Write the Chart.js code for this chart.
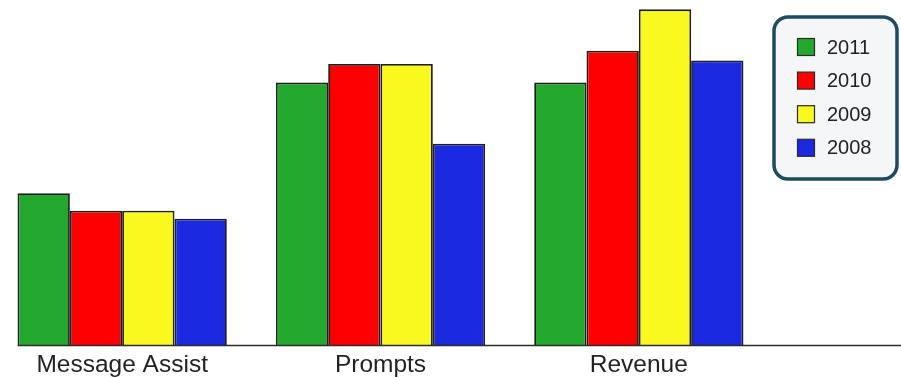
<!DOCTYPE html>
<html>
<head>
<meta charset="utf-8">
<title>Yearly comparison</title>
<script src="https://cdn.jsdelivr.net/npm/chart.js@4/dist/chart.umd.min.js"></script>
<style>
  html, body { margin: 0; padding: 0; background: #ffffff; overflow: hidden; }
  #wrap { position: absolute; left: -7px; top: 0; width: 908px; height: 385px; }
</style>
</head>
<body>
<div id="wrap"><canvas id="chart" width="908" height="385"></canvas></div>
<script>
// Categories along the x axis
const categories = ['Message Assist', 'Prompts', 'Revenue'];

// One series per year
const years = ['2011', '2010', '2009', '2008'];
const values2011 = [44.1, 76.1, 76.1];
const values2010 = [39.0, 81.5, 85.3];
const values2009 = [39.0, 81.5, 97.3];
const values2008 = [36.7, 58.4, 82.5];

const seriesValues = [values2011, values2010, values2009, values2008];
const seriesColors = ['#22a82d', '#fe0000', '#f9f91f', '#1b2ae0'];

const datasets = years.map((year, i) => ({
  label: year,
  data: seriesValues[i],
  backgroundColor: seriesColors[i],
  borderColor: '#1e1e1e',
  borderWidth: 1.8,
  borderSkipped: 'bottom',
  categoryPercentage: 0.81,
  barPercentage: 1.0
}));

// Baseline running from the first bar to the right edge
const baselinePlugin = {
  id: 'baseline',
  afterDatasetsDraw(chart) {
    const ctx = chart.ctx;
    const first = chart.getDatasetMeta(0).data[0];
    const left = first.x - first.width / 2;
    const y = chart.chartArea.bottom;
    ctx.save();
    ctx.strokeStyle = '#2b2b2b';
    ctx.lineWidth = 1.5;
    ctx.beginPath();
    ctx.moveTo(left, y);
    ctx.lineTo(chart.width, y);
    ctx.stroke();
    ctx.restore();
  }
};

// Boxed legend in the upper right corner
const boxLegendPlugin = {
  id: 'boxLegend',
  afterDraw(chart) {
    const ctx = chart.ctx;
    const ox = 7; // canvas offset relative to the page
    const bx = 774 + ox, by = 17, bw = 123, bh = 162, r = 14;
    ctx.save();
    ctx.beginPath();
    ctx.roundRect(bx, by, bw, bh, r);
    ctx.fillStyle = '#f4f6f8';
    ctx.fill();
    ctx.lineWidth = 3.5;
    ctx.strokeStyle = '#1d4b61';
    ctx.stroke();

    const rowStart = 47, rowStep = 33.6, sw = 17;
    chart.data.datasets.forEach((ds, i) => {
      const cy = rowStart + i * rowStep;
      ctx.fillStyle = ds.backgroundColor;
      ctx.fillRect(797.5 + ox, cy - sw / 2, sw, sw);
      ctx.lineWidth = 1.2;
      ctx.strokeStyle = '#2a2a2a';
      ctx.strokeRect(797.5 + ox, cy - sw / 2, sw, sw);
      ctx.fillStyle = '#222222';
      ctx.font = '20px "Liberation Sans", Arial, sans-serif';
      ctx.textBaseline = 'middle';
      ctx.textAlign = 'left';
      ctx.fillText(ds.label, 827 + ox, cy + 1);
    });
    ctx.restore();
  }
};

new Chart(document.getElementById('chart'), {
  type: 'bar',
  data: { labels: categories, datasets },
  plugins: [baselinePlugin, boxLegendPlugin],
  options: {
    responsive: false,
    animation: false,
    devicePixelRatio: 1,
    layout: { padding: { left: 0, right: 133, top: 0, bottom: 0 } },
    plugins: {
      legend: { display: false },
      tooltip: { enabled: false }
    },
    scales: {
      x: {
        grid: { display: false, drawTicks: false },
        border: { display: false },
        ticks: {
          color: '#222222',
          padding: 5.0,
          maxRotation: 0,
          font: { family: '"Liberation Sans", Arial, sans-serif', size: 24.5 }
        }
      },
      y: {
        display: false,
        min: 0,
        max: 100
      }
    }
  }
});
</script>
</body>
</html>
